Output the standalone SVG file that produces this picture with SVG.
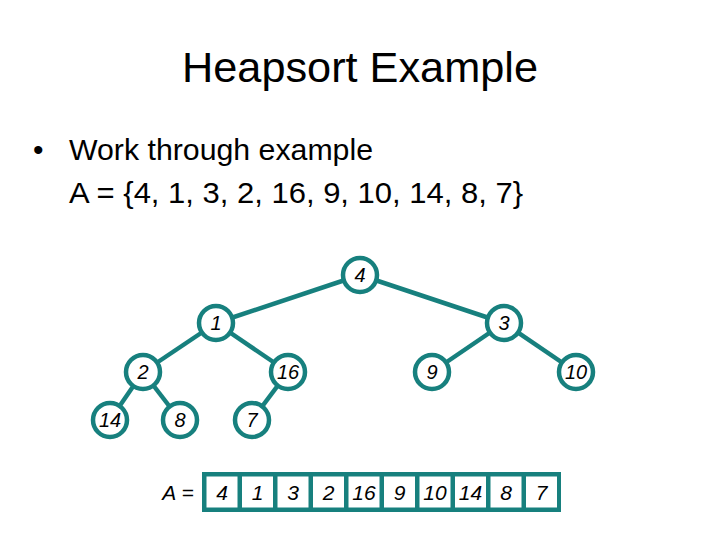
<svg xmlns="http://www.w3.org/2000/svg" width="720" height="540" viewBox="0 0 720 540">
<style>
.t{font-family:"Liberation Sans",Arial,sans-serif;fill:#000}
.e{stroke:#17807e;stroke-width:4.5;fill:none}
.n circle{fill:#fff;stroke:#17807e;stroke-width:4.5}
.n text,.c text{font-family:"Liberation Sans",Arial,sans-serif;font-style:italic;font-size:20px;text-anchor:middle;fill:#000}
.c text{font-size:21px}
.c rect{fill:#fff}
</style>
<rect width="720" height="540" fill="#fff"/>
<text class="t" x="182" y="82" font-size="43" textLength="356" lengthAdjust="spacingAndGlyphs">Heapsort Example</text>
<text class="t" x="33" y="160" font-size="30">•</text>
<text class="t" x="69" y="160" font-size="30" textLength="304" lengthAdjust="spacingAndGlyphs">Work through example</text>
<text class="t" x="69" y="203" font-size="30" textLength="454" lengthAdjust="spacingAndGlyphs">A = {4, 1, 3, 2, 16, 9, 10, 14, 8, 7}</text>
<g id="edges">
<line class="e" x1="360" y1="275" x2="216" y2="323"/>
<line class="e" x1="360" y1="275" x2="504" y2="323"/>
<line class="e" x1="216" y1="323" x2="143" y2="372"/>
<line class="e" x1="216" y1="323" x2="288" y2="372"/>
<line class="e" x1="504" y1="323" x2="432" y2="372"/>
<line class="e" x1="504" y1="323" x2="576" y2="372"/>
<line class="e" x1="143" y1="372" x2="110" y2="420"/>
<line class="e" x1="143" y1="372" x2="180" y2="420"/>
<line class="e" x1="288" y1="372" x2="252" y2="420"/>
</g>
<g id="n4" class="n"><circle cx="360" cy="275" r="17"/><text x="360" y="282">4</text></g>
<g id="n1" class="n"><circle cx="216" cy="323" r="17"/><text x="216" y="330">1</text></g>
<g id="n3" class="n"><circle cx="504" cy="323" r="17"/><text x="504" y="330">3</text></g>
<g id="n2" class="n"><circle cx="143" cy="372" r="17"/><text x="143" y="379">2</text></g>
<g id="n16" class="n"><circle cx="288" cy="372" r="17"/><text x="288" y="379">16</text></g>
<g id="n9" class="n"><circle cx="432" cy="372" r="17"/><text x="432" y="379">9</text></g>
<g id="n10" class="n"><circle cx="576" cy="372" r="17"/><text x="576" y="379">10</text></g>
<g id="n14" class="n"><circle cx="110" cy="420" r="17"/><text x="110" y="427">14</text></g>
<g id="n8" class="n"><circle cx="180" cy="420" r="17"/><text x="180" y="427">8</text></g>
<g id="n7" class="n"><circle cx="252" cy="420" r="17"/><text x="252" y="427">7</text></g>
<g id="array" class="c">
<text x="178" y="500">A =</text>
<rect x="202" y="472" width="359" height="40" style="fill:#17807e"/>
<rect x="206.5" y="476.5" width="31" height="31"/>
<rect x="242" y="476.5" width="31" height="31"/>
<rect x="277.5" y="476.5" width="31" height="31"/>
<rect x="313" y="476.5" width="31" height="31"/>
<rect x="348.5" y="476.5" width="31" height="31"/>
<rect x="384" y="476.5" width="31" height="31"/>
<rect x="419.5" y="476.5" width="31" height="31"/>
<rect x="455" y="476.5" width="31" height="31"/>
<rect x="490.5" y="476.5" width="31" height="31"/>
<rect x="526" y="476.5" width="31" height="31"/>
<text x="222" y="500">4</text>
<text x="257.5" y="500">1</text>
<text x="293" y="500">3</text>
<text x="328.5" y="500">2</text>
<text x="364" y="500">16</text>
<text x="399.5" y="500">9</text>
<text x="435" y="500">10</text>
<text x="470.5" y="500">14</text>
<text x="506" y="500">8</text>
<text x="541.5" y="500">7</text>
</g>
</svg>
